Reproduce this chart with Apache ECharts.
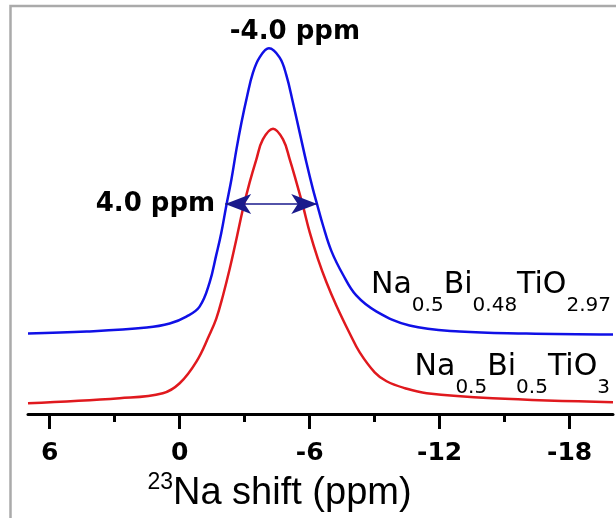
<!DOCTYPE html>
<html>
<head>
<meta charset="utf-8">
<script src="https://cdn.jsdelivr.net/npm/echarts@6/dist/echarts.min.js"></script>
<style>
  html, body { margin: 0; padding: 0; background: #fff; }
  #chart { width: 616px; height: 518px; }
</style>
</head>
<body>
<div id="chart"></div>
<script>
// 23Na MAS NMR spectra (intensity in arbitrary units, stacked)
const shiftBlue = [7.0, 4.29, 1.52, 0.46, -0.31, -0.92, -1.38, -1.69, -1.92, -2.15, -2.39, -2.62, -2.85, -3.11, -3.38, -3.69, -4.12, -4.61, -4.92, -5.23, -5.54, -5.85, -6.15, -6.34, -6.61, -7.0, -7.54, -8.15, -9.09, -10.61, -12.92, -16.0, -20.0]
const intensityBlue = [20.25, 20.75, 21.75, 22.75, 24.5, 27, 33, 40, 45.5, 52.3, 59, 66.5, 73.2, 79.8, 85.7, 89.6, 91.9, 89.6, 85.2, 78.2, 70.7, 63.2, 56.5, 52.75, 47.5, 41, 35, 29.8, 25.75, 22.25, 20.75, 20.25, 20]
const shiftRed = [7.0, 2.77, 0.78, 0, -0.78, -1.38, -1.69, -2.0, -2.31, -2.62, -2.92, -3.23, -3.54, -3.84, -4.31, -4.77, -5.08, -5.39, -5.69, -6.0, -6.38, -6.77, -7.23, -7.85, -8.31, -9.0, -9.55, -10.4, -11.4, -14.44, -20.0]
const intensityRed = [2.75, 4, 5.25, 7.75, 13.25, 20, 24, 29.8, 36.5, 44, 51.5, 58.2, 64, 69, 71.7, 69, 64, 58.2, 52.3, 45.7, 39, 33.2, 27.3, 20.25, 15.5, 10.5, 8.25, 6.5, 5.25, 4, 3]

const majorTicks = [6, 0, -6, -12, -18]
const minorTicks = [3, -3, -9, -15]

const peakPoint = [-4.12, 91.9]
const peakLabel = '-4.0 ppm'
const fwhmStart = [-2.1, 52.75]
const fwhmEnd = [-6.35, 52.75]
const fwhmLabel = '4.0 ppm'

const zip = (xs, ys) => xs.map((x, i) => [x, ys[i]])

const chart = echarts.init(document.getElementById('chart'))

const formulaRich = {
  g: { fontSize: 1, lineHeight: 46, verticalAlign: 'top' },
  m: { fontFamily: 'DejaVu Sans', fontSize: 30, lineHeight: 32, verticalAlign: 'top', color: '#000' },
  s: { fontFamily: 'DejaVu Sans', fontSize: 20, lineHeight: 20, verticalAlign: 'bottom', color: '#000' }
}

const option = {
  animation: false,
  backgroundColor: '#fff',
  graphic: [
    {
      type: 'rect',
      z: -10,
      shape: { x: 10.5, y: 6, width: 800, height: 800 },
      style: { fill: null, stroke: '#aaaaaa', lineWidth: 2.5 }
    },
    {
      type: 'text',
      right: 5,
      top: 270,
      style: {
        text: '{g|\u200b}{m|Na}{s|0.5}{m|Bi}{s|0.48}{m|TiO}{s|2.97}',
        rich: formulaRich
      }
    },
    {
      type: 'text',
      right: 6,
      top: 352,
      style: {
        text: '{g|\u200b}{m|Na}{s|0.5}{m|Bi}{s|0.5}{m|TiO}{s|3}',
        rich: formulaRich
      }
    }
  ],
  grid: { left: 28, right: 3, top: 16, bottom: 102 },
  xAxis: [
    {
      type: 'value',
      min: -20,
      max: 7,
      inverse: true,
      position: 'bottom',
      axisLine: { lineStyle: { color: '#000', width: 3 } },
      axisTick: {
        customValues: majorTicks,
        length: 15,
        lineStyle: { color: '#000', width: 3 }
      },
      axisLabel: {
        customValues: majorTicks,
        margin: 27,
        color: '#000',
        fontFamily: 'DejaVu Sans',
        fontWeight: 'bold',
        fontSize: 25
      },
      splitLine: { show: false },
      name: '{sup|23}{main|Na shift (ppm)}',
      nameLocation: 'middle',
      nameGap: 54,
      nameTextStyle: {
        padding: [0, 82, 0, 0],
        rich: {
          sup: { fontFamily: 'Liberation Sans', fontSize: 23, lineHeight: 30, verticalAlign: 'top', color: '#000' },
          main: { fontFamily: 'Liberation Sans', fontSize: 38, lineHeight: 42, verticalAlign: 'bottom', color: '#000' }
        }
      }
    },
    {
      type: 'value',
      min: -20,
      max: 7,
      inverse: true,
      position: 'bottom',
      axisLine: { show: false },
      axisTick: {
        customValues: minorTicks,
        length: 8,
        lineStyle: { color: '#000', width: 3 }
      },
      axisLabel: { show: false },
      splitLine: { show: false }
    }
  ],
  yAxis: { type: 'value', min: 0, max: 100, show: false },
  series: [
    {
      name: 'Na0.5Bi0.5TiO3',
      type: 'line',
      data: zip(shiftRed, intensityRed),
      showSymbol: false,
      smooth: 0.4,
      lineStyle: { color: '#e0191e', width: 2.5 }
    },
    {
      name: 'Na0.5Bi0.48TiO2.97',
      type: 'line',
      data: zip(shiftBlue, intensityBlue),
      showSymbol: false,
      smooth: 0.4,
      lineStyle: { color: '#1010e6', width: 2.5 },
      markPoint: {
        symbol: 'circle',
        symbolSize: 0,
        data: [{ coord: peakPoint }],
        label: {
          show: true,
          position: 'top',
          distance: 3,
          offset: [26, 0],
          formatter: peakLabel,
          color: '#000',
          fontFamily: 'DejaVu Sans',
          fontWeight: 'bold',
          fontSize: 26
        }
      },
      markLine: {
        silent: true,
        symbol: ['arrow', 'arrow'],
        symbolSize: [15, 26],
        lineStyle: { color: '#1a1a8c', width: 1.5, type: 'solid' },
        label: {
          show: true,
          position: 'start',
          distance: 10,
          padding: [0, 0, 8, 0],
          formatter: fwhmLabel,
          color: '#000',
          fontFamily: 'DejaVu Sans',
          fontWeight: 'bold',
          fontSize: 26
        },
        data: [[{ coord: fwhmStart }, { coord: fwhmEnd }]]
      }
    }
  ]
}

chart.setOption(option)
</script>
</body>
</html>
